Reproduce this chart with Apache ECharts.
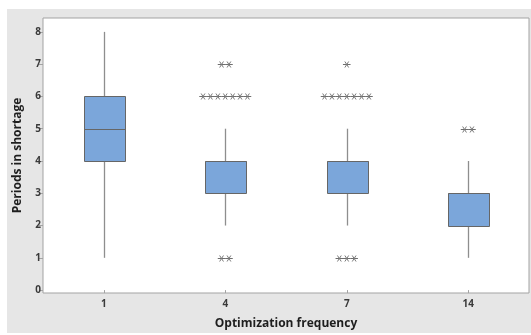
<!DOCTYPE html>
<html>
<head>
<meta charset="utf-8">
<script src="https://cdn.jsdelivr.net/npm/echarts@6/dist/echarts.min.js"></script>
<style>
  html, body { margin: 0; padding: 0; background: #fff; }
  #chart { width: 531px; height: 335px; }
</style>
</head>
<body>
<div id="chart"></div>
<script>
// Optimization frequency groups
const categories = ['1', '4', '7', '14'];
// Box statistics per group: [whisker low, Q1, median, Q3, whisker high]
const boxStats = [
  [1, 4, 5, 6, 8],
  [2, 3, 4, 4, 5],
  [2, 3, 4, 4, 5],
  [1, 2, 3, 3, 4]
];
// Outlying observations per group
const outliers = [
  [],
  [7, 7, 6, 6, 6, 6, 6, 6, 6, 1, 1],
  [7, 6, 6, 6, 6, 6, 6, 6, 1, 1, 1],
  [5, 5]
];
// Y-axis tick values
const yTicks = [0, 1, 2, 3, 4, 5, 6, 7, 8];

const boxData = boxStats.map((s, i) => [i].concat(s));

// Repeated outliers sit side by side: [group index, value, position in run, run length]
const outlierData = [];
outliers.forEach((vals, i) => {
  const counts = {};
  vals.forEach(v => { counts[v] = (counts[v] || 0) + 1; });
  Object.keys(counts).forEach(v => {
    const n = counts[v];
    for (let k = 0; k < n; k++) outlierData.push([i, Number(v), k, n]);
  });
});

const chart = echarts.init(document.getElementById('chart'), null, { renderer: 'canvas' });

const fontFamily = '"Open Sans", "Noto Sans", sans-serif';

chart.setOption({
  backgroundColor: '#ffffff',
  animation: false,
  graphic: [{
    type: 'rect',
    z: -10,
    shape: { x: 7, y: 9, width: 524, height: 324 },
    style: { fill: '#e6e6e6' },
    silent: true
  }],
  grid: {
    left: 43, right: 2, top: 18, bottom: 41,
    show: true,
    backgroundColor: '#ffffff',
    borderColor: '#a3a3a3',
    borderWidth: 1
  },
  xAxis: {
    type: 'category',
    data: categories,
    boundaryGap: true,
    name: 'Optimization frequency',
    nameLocation: 'middle',
    nameGap: 25,
    nameTextStyle: { fontFamily, fontSize: 12, fontWeight: 'bold', color: '#1e1e1e' },
    axisLine: { show: false },
    axisTick: { show: true, alignWithLabel: true, length: 3, lineStyle: { color: '#a3a3a3' } },
    axisLabel: { fontFamily, fontSize: 10, fontWeight: 'bold', color: '#3a3a3a', margin: 6 },
    splitLine: { show: false }
  },
  yAxis: {
    type: 'value',
    min: -0.09,
    max: 8.43,
    name: 'Periods in shortage',
    nameLocation: 'middle',
    nameGap: 19,
    nameTextStyle: { fontFamily, fontSize: 12, fontWeight: 'bold', color: '#1e1e1e' },
    axisLine: { show: false },
    axisTick: { show: true, customValues: yTicks, length: 4, lineStyle: { color: '#a3a3a3' } },
    axisLabel: { customValues: yTicks, fontFamily, fontSize: 10, fontWeight: 'bold', color: '#3a3a3a', margin: 2 },
    splitLine: { show: false }
  },
  series: [
    {
      type: 'custom',
      name: 'box',
      data: boxData,
      encode: { x: 0, y: [1, 2, 3, 4, 5] },
      renderItem: function (params, api) {
        const i = api.value(0);
        const lo = api.coord([i, api.value(1)]);
        const q1 = api.coord([i, api.value(2)]);
        const med = api.coord([i, api.value(3)]);
        const q3 = api.coord([i, api.value(4)]);
        const hi = api.coord([i, api.value(5)]);
        const w = Math.round(api.size([1, 0])[0] * 0.34);
        const cx = Math.round(lo[0]) + 0.5;
        const left = Math.round(cx - w / 2) + 0.5;
        const whisker = { stroke: '#8e8e8e', lineWidth: 1.3 };
        return {
          type: 'group',
          children: [
            { type: 'line', shape: { x1: cx, y1: lo[1], x2: cx, y2: q1[1] }, style: whisker },
            { type: 'line', shape: { x1: cx, y1: q3[1], x2: cx, y2: hi[1] }, style: whisker },
            {
              type: 'rect',
              shape: { x: left, y: Math.round(q3[1]) + 0.5, width: w, height: Math.round(q1[1]) - Math.round(q3[1]) },
              style: { fill: '#7ba6da', stroke: '#666666', lineWidth: 1 }
            },
            {
              type: 'line',
              shape: { x1: left, y1: Math.round(med[1]) + 0.5, x2: left + w, y2: Math.round(med[1]) + 0.5 },
              style: { stroke: '#666666', lineWidth: 1 }
            }
          ]
        };
      },
      z: 2
    },
    {
      type: 'custom',
      name: 'outliers',
      data: outlierData,
      encode: { x: 0, y: 1 },
      renderItem: function (params, api) {
        const p = api.coord([api.value(0), api.value(1)]);
        const k = api.value(2), n = api.value(3);
        const step = 7.4;
        const cx = p[0] + (k - (n - 1) / 2) * step;
        const cy = Math.round(p[1]) + 0.5;
        const r = 3.8, dx = 1.9, dy = 3.0;
        return {
          type: 'group',
          children: [
            { type: 'line', shape: { x1: cx - r, y1: cy, x2: cx + r, y2: cy }, style: { stroke: '#6e6e6e', lineWidth: 1 } },
            { type: 'line', shape: { x1: cx - dx, y1: cy - dy, x2: cx + dx, y2: cy + dy }, style: { stroke: '#7a7a7a', lineWidth: 1 } },
            { type: 'line', shape: { x1: cx - dx, y1: cy + dy, x2: cx + dx, y2: cy - dy }, style: { stroke: '#7a7a7a', lineWidth: 1 } }
          ]
        };
      },
      z: 3
    }
  ]
});
</script>
</body>
</html>
